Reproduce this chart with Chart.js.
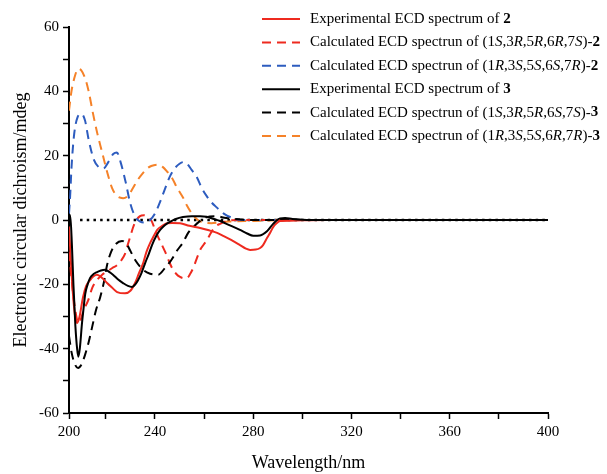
<!DOCTYPE html>
<html>
<head>
<meta charset="utf-8">
<title>ECD spectra</title>
<script src="https://cdn.jsdelivr.net/npm/chart.js@4.4.1/dist/chart.umd.min.js"></script>
<style>
    html, body { margin: 0; padding: 0; background: #ffffff; }
    canvas { display: block; }
</style>
</head>
<body>
<canvas id="ecdChart" width="607" height="474"></canvas>
<script>

// ==========================
// DATA (wavelength in nm, CD in mdeg)
// ==========================

// Experimental ECD spectrum of 2
const exp2Nm = [205, 205.7, 206.5, 207.5, 208.3, 209.3, 210.7, 212, 213.6, 215, 216.4, 218.5, 220.5, 222.5, 224.6, 227.8, 230, 231.9, 233.5, 235.2, 236.5, 238, 239.5, 240.9, 243, 244.9, 247, 250.2, 254, 258.4, 262, 265.3, 268, 271, 274.6, 277, 278.7, 281, 282.8, 284, 285.6, 287, 288.1, 289.5, 290.9, 295, 300, 310, 340, 370, 400];
const exp2Cd = [-2, -12, -22, -30, -32, -30, -24, -20.5, -18.7, -17.5, -17, -18, -19.6, -21, -22.4, -22.8, -22, -19.6, -16.5, -13.4, -10, -7.2, -5, -3.1, -1.8, -1, -0.9, -1, -1.8, -2.5, -3.2, -4, -5, -6.2, -7.8, -8.9, -9.3, -9.2, -8.7, -7.8, -5.6, -3.8, -2.2, -1, -0.3, -0.2, -0.1, 0, 0, 0, 0];

// Calculated (1S,3R,5R,6R,7S)-2
const calc2aNm = [205, 206, 207, 208, 208.7, 209.5, 211, 212.8, 214.5, 216.4, 218.5, 220.5, 222.5, 224.6, 226.3, 227.8, 229, 230, 231, 232, 233.9, 235.5, 236.8, 238, 238.8, 240, 241.3, 242.8, 244.2, 245.6, 247, 248.6, 250.2, 251.7, 253.1, 254.3, 255.5, 257, 258.4, 259.8, 261.2, 262.4, 263.6, 265, 266.5, 269.3, 275, 300, 400];
const calc2aCd = [-10, -18, -25, -30, -32, -31.5, -28, -25, -21, -18.7, -17, -16, -15, -14, -12.5, -10.5, -7.5, -5, -2.5, -0.6, 1.2, 1.5, 1.2, 0.3, -0.6, -3, -5.3, -7.7, -10, -12.6, -15, -16.7, -17.7, -18.1, -18, -16.8, -15, -12, -9.3, -7.7, -6.2, -4.5, -3, -1.8, -1.2, -0.3, 0, 0, 0];

// Calculated (1R,3S,5S,6S,7R)-2
const calc2bNm = [205, 205.5, 206, 207, 208.5, 210, 211.5, 213, 215, 217, 219, 221, 223, 224.5, 226, 228, 230, 232, 234, 236, 238, 240, 242, 244, 246, 248, 250, 251.5, 253, 255, 257, 259, 261, 263, 265, 268, 271, 275, 280, 300, 400];
const calc2bCd = [2, 8, 16, 26, 32, 33, 31, 25, 19, 16.5, 16, 18, 20.5, 21, 18, 12, 5, 1, -0.5, -0.8, 0, 2, 5.5, 9.5, 13.4, 16, 17.5, 18, 17.5, 15.5, 13.4, 10, 7.5, 5.5, 4, 2, 0.8, 0, 0, 0, 0];

// Experimental ECD spectrum of 3
const exp3Nm = [205, 205.5, 206.2, 206.8, 207.6, 208.3, 208.8, 209.4, 210.3, 211, 211.6, 212.6, 213.6, 215, 216.4, 218, 219.7, 221.5, 222.9, 225, 227, 229, 230.7, 232, 233.1, 234.5, 236, 237.5, 238.8, 240.5, 242.1, 244, 246.1, 248.5, 251.4, 255, 258.4, 261, 264, 266.5, 270, 274.6, 277.5, 280, 282.8, 285.6, 288.1, 290.9, 293, 296, 300, 310, 340, 370, 400];
const exp3Cd = [1, 1.5, -8, -20, -33, -40, -42.5, -40, -32, -27, -23, -20, -18, -16.8, -16.2, -15.7, -15.5, -16.2, -17, -18.5, -19.6, -20.5, -20.8, -20, -18.7, -16.5, -13.4, -10.5, -7.8, -5, -3.1, -1.6, -0.6, 0.3, 0.9, 1.2, 1.2, 1, 0.3, -0.3, -1.5, -3.1, -4.2, -4.9, -4.8, -3.5, -1.2, 0.5, 0.6, 0.3, 0.1, 0, 0, 0, 0];

// Calculated (1S,3R,5R,6S,7S)-3
const calc3aNm = [205, 206, 207.5, 208.7, 210, 211.5, 213, 214.5, 216, 217.7, 219.3, 220.5, 222.1, 224, 226.6, 228.5, 229.9, 232, 235.2, 238, 241.3, 244, 246.6, 249, 251.4, 253.5, 255.9, 258, 260.8, 264.5, 269, 274.6, 280, 300, 400];
const calc3aCd = [-36, -41, -45, -46, -45, -42, -38, -33, -28, -24, -19, -14, -10, -7.5, -6.5, -7.5, -9.5, -12.5, -15.5, -16.7, -17, -15, -12.5, -9.5, -7, -4, -2, -0.5, 0.8, 1.2, 0.6, 0.2, 0, 0, 0];

// Calculated (1R,3S,5S,6R,7R)-3
const calc3bNm = [205, 206, 207.5, 208.7, 210, 211.6, 213, 214.8, 216.5, 218.5, 220.5, 222.5, 224.5, 227, 229, 231.1, 233, 235, 236.8, 238.5, 241.3, 243, 245, 247, 249, 251.4, 253, 255, 256.3, 258, 260, 263, 266, 270, 280, 290, 300, 400];
const calc3bCd = [34, 40, 45, 47, 46.5, 44, 40, 33, 27, 21, 15, 10, 7.5, 6.8, 7.5, 10, 12.5, 14.5, 16, 16.8, 17.2, 16.6, 15, 13, 10, 7, 4.5, 2, 0.8, -0.3, -0.8, -1, -0.8, -0.5, -0.3, -0.1, 0, 0];

// zero reference (dotted)
const zeroNm = [209.5, 400];
const zeroCd = [0, 0];

// axis ticks
const xTickValues = [205, 220, 240, 260, 280, 300, 320, 340, 360, 380, 400];
const xTickLabels = ["200", "", "240", "", "280", "", "320", "", "360", "", "400"];
const yTickValues = [-60, -50, -40, -30, -20, -10, 0, 10, 20, 30, 40, 50, 60];
const yTickLabels = ["-60", "", "-40", "", "-20", "", "0", "", "20", "", "40", "", "60"];

// legend texts (<i> italic, <b> bold)
const legendTexts = [
    "Experimental ECD spectrum of <b>2</b>",
    "Calculated ECD spectrun of (1<i>S</i>,3<i>R</i>,5<i>R</i>,6<i>R</i>,7<i>S</i>)-<b>2</b>",
    "Calculated ECD spectrun of (1<i>R</i>,3<i>S</i>,5<i>S</i>,6<i>S</i>,7<i>R</i>)-<b>2</b>",
    "Experimental ECD spectrum of <b>3</b>",
    "Calculated ECD spectrun of (1<i>S</i>,3<i>R</i>,5<i>R</i>,6<i>S</i>,7<i>S</i>)-<b>3</b>",
    "Calculated ECD spectrun of (1<i>R</i>,3<i>S</i>,5<i>S</i>,6<i>R</i>,7<i>R</i>)-<b>3</b>"
];

const SERIF = '"Liberation Serif", "Times New Roman", Times, serif';
const RED = "#ee2a1f";
const BLUE = "#2d5cbf";
const ORANGE = "#f58229";
const BLACK = "#000000";
const DASH = [9, 6];

function toPoints(xs, ys) {
    return xs.map((x, i) => ({ x: x, y: ys[i] }));
}

function series(label, xs, ys, color, dash, order) {
    return {
        label: label,
        data: toPoints(xs, ys),
        borderColor: color,
        backgroundColor: color,
        borderWidth: 2,
        borderDash: dash,
        pointRadius: 0,
        fill: false,
        cubicInterpolationMode: "monotone",
        order: order
    };
}

// ==========================
// LEGEND with italic / bold parts
// ==========================
function splitRich(text) {
    return text.split(/(<[ib]>.*?<\/[ib]>)/).filter(s => s.length).map(s => {
        const m = s.match(/^<([ib])>(.*)<\/[ib]>$/);
        if (m) return { t: m[2], style: m[1] };
        return { t: s, style: "" };
    });
}

const richLegend = {
    id: "richLegend",
    afterDraw(chart) {
        const ctx = chart.ctx;
        ctx.save();
        legendTexts.forEach((text, i) => {
            const ds = chart.data.datasets[i];
            const y = 19 + i * 23.4;
            ctx.strokeStyle = ds.borderColor;
            ctx.lineWidth = 2;
            ctx.setLineDash(ds.borderDash || []);
            ctx.beginPath();
            ctx.moveTo(262, y);
            ctx.lineTo(300, y);
            ctx.stroke();
            ctx.setLineDash([]);

            let x = 310;
            ctx.fillStyle = "#000";
            ctx.textBaseline = "middle";
            ctx.textAlign = "left";
            splitRich(text).forEach(p => {
                const st = p.style === "i" ? "italic " : (p.style === "b" ? "bold " : "");
                ctx.font = st + "15px " + SERIF;
                ctx.fillText(p.t, x, y);
                x += ctx.measureText(p.t).width;
            });
        });
        ctx.restore();
    }
};

// ==========================
// CHART
// ==========================
Chart.defaults.font.family = SERIF;
Chart.defaults.color = "#000";

new Chart(document.getElementById("ecdChart"), {

    type: "line",

    data: {
        datasets: [
            series("exp2", exp2Nm, exp2Cd, RED, [], 2),
            series("calc2a", calc2aNm, calc2aCd, RED, DASH, 5),
            series("calc2b", calc2bNm, calc2bCd, BLUE, DASH, 4),
            series("exp3", exp3Nm, exp3Cd, BLACK, [], 1),
            series("calc3a", calc3aNm, calc3aCd, BLACK, DASH, 3),
            series("calc3b", calc3bNm, calc3bCd, ORANGE, DASH, 6),
            {
                label: "zero",
                data: toPoints(zeroNm, zeroCd),
                borderColor: BLACK,
                borderWidth: 2.5,
                borderDash: [2.5, 4.2],
                pointRadius: 0,
                order: 7
            }
        ]
    },

    options: {
        responsive: false,
        animation: false,
        layout: {
            padding: { left: 0, top: 27, right: 59, bottom: 0 }
        },
        scales: {
            x: {
                type: "linear",
                min: 205,
                max: 400,
                afterBuildTicks: function (scale) {
                    scale.ticks = xTickValues.map(v => ({ value: v }));
                },
                afterFit: function (scale) {
                    scale.height = 61;
                },
                ticks: {
                    autoSkip: false,
                    maxRotation: 0,
                    padding: 4,
                    font: { size: 15 },
                    callback: function (value) {
                        const i = xTickValues.indexOf(value);
                        return i >= 0 ? xTickLabels[i] : "";
                    }
                },
                grid: {
                    drawOnChartArea: false,
                    drawTicks: true,
                    tickLength: 6,
                    tickColor: "#000",
                    tickWidth: 1.5
                },
                border: { color: "#000", width: 2 },
                title: {
                    display: true,
                    text: "Wavelength/nm",
                    font: { size: 18 },
                    padding: { top: 3, bottom: 0 }
                }
            },
            y: {
                type: "linear",
                min: -60,
                max: 60,
                afterBuildTicks: function (scale) {
                    scale.ticks = yTickValues.map(v => ({ value: v }));
                },
                afterFit: function (scale) {
                    scale.width = 69;
                },
                ticks: {
                    autoSkip: false,
                    padding: 4,
                    font: { size: 15 },
                    callback: function (value) {
                        const i = yTickValues.indexOf(value);
                        return i >= 0 ? yTickLabels[i] : "";
                    }
                },
                grid: {
                    drawOnChartArea: false,
                    drawTicks: true,
                    tickLength: 6,
                    tickColor: "#000",
                    tickWidth: 1.5
                },
                border: { color: "#000", width: 2 },
                title: {
                    display: true,
                    text: "Electronic circular dichroism/mdeg",
                    font: { size: 18 },
                    padding: { top: 10, bottom: 0 }
                }
            }
        },
        plugins: {
            legend: { display: false },
            tooltip: { enabled: false }
        }
    },

    plugins: [richLegend]

});

</script>
</body>
</html>
